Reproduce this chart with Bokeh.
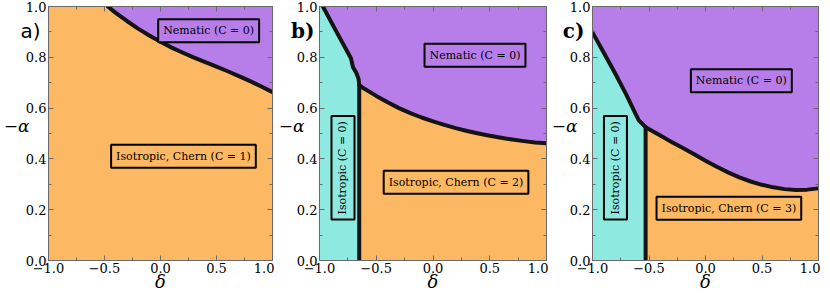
from bokeh.plotting import figure
from bokeh.layouts import row
from bokeh.models import Range1d, LinearAxis, FixedTicker, Label
from bokeh.embed import file_html
from bokeh.resources import INLINE

# ---------------- data ----------------
X_MIN, X_MAX = -1.0, 1.0
Y_MIN, Y_MAX = 0.0, 1.0
x_ticks = [-1.0, -0.5, 0.0, 0.5, 1.0]
x_tick_labels = ["\u22121.0", "\u22120.5", "0.0", "0.5", "1.0"]
x_minor = [-0.75, -0.25, 0.25, 0.75]
y_ticks = [0.0, 0.2, 0.4, 0.6, 0.8, 1.0]
y_tick_labels = ["0.0", "0.2", "0.4", "0.6", "0.8", "1.0"]
y_minor = [0.1, 0.3, 0.5, 0.7, 0.9]
x_label = "\u03b4"
y_label = "\u2212\u03b1"
panel_letters = ["a)", "b)", "c)"]

# panel a: nematic / Chern(C=1) boundary
a_delta = [-0.47, -0.4, -0.3, -0.2, -0.1, 0.0, 0.1, 0.2, 0.3, 0.4, 0.5, 0.6, 0.7, 0.8, 0.9, 1.0]
a_alpha = [1.0, 0.975, 0.943, 0.913, 0.886, 0.861, 0.838, 0.818, 0.799, 0.781, 0.763,
           0.745, 0.726, 0.706, 0.685, 0.663]

# panel b
b_up_delta = [-0.97, -0.85, -0.723, -0.705, -0.676, -0.656, -0.65]
b_up_alpha = [1.0, 0.90, 0.796, 0.761, 0.739, 0.715, 0.690]
b_low_delta = [-0.65, -0.6, -0.5, -0.4, -0.3, -0.2, -0.1, 0.0, 0.1, 0.2, 0.3, 0.4, 0.5,
               0.6, 0.7, 0.8, 0.9, 1.0]
b_low_alpha = [0.690, 0.675, 0.648, 0.623, 0.600, 0.580, 0.563, 0.548, 0.534, 0.521, 0.510,
               0.500, 0.491, 0.483, 0.476, 0.470, 0.465, 0.462]

# panel c
c_up_delta = [-1.0, -0.9, -0.8, -0.7, -0.62, -0.59, -0.53]
c_up_alpha = [0.898, 0.818, 0.737, 0.652, 0.578, 0.552, 0.525]
c_low_delta = [-0.53, -0.4, -0.3, -0.2, -0.1, 0.0, 0.1, 0.2, 0.3, 0.4, 0.5, 0.6, 0.7, 0.8,
               0.9, 1.0]
c_low_alpha = [0.525, 0.492, 0.467, 0.443, 0.418, 0.393, 0.369, 0.347, 0.327, 0.311, 0.298,
               0.288, 0.281, 0.278, 0.279, 0.284]

ORANGE = "#FDB863"
PURPLE = "#B77EEA"
CYAN = "#8EEAE0"
LINE = "#141414"
TICK = "#6a6a6a"
SERIF = "DejaVu Serif"


def style_axis(ax, show_labels, ticks):
    ax.axis_line_color = TICK
    ax.axis_line_width = 1
    ax.major_tick_line_color = TICK
    ax.minor_tick_line_color = TICK
    ax.major_tick_in = 5
    ax.major_tick_out = 0
    ax.minor_tick_in = 3
    ax.minor_tick_out = 0
    ax.major_label_text_font = SERIF
    ax.major_label_text_font_size = "13px"
    ax.major_label_text_color = "black"
    if show_labels:
        ax.major_label_standoff = 2
    else:
        ax.major_label_overrides = {t: "" for t in ticks}
        ax.major_label_standoff = 0


def text_axis(value_pos, text, font, style, size, standoff):
    ax = LinearAxis(ticker=FixedTicker(ticks=[value_pos], minor_ticks=[]))
    ax.major_label_overrides = {value_pos: text}
    ax.axis_line_color = None
    ax.major_tick_line_color = None
    ax.minor_tick_line_color = None
    ax.major_tick_in = 0
    ax.major_tick_out = 0
    ax.major_label_text_font = font
    ax.major_label_text_font_style = style
    ax.major_label_text_font_size = size
    ax.major_label_text_color = "black"
    ax.major_label_standoff = standoff
    return ax


def make_fig(width, left, letter, letter_font, letter_style, letter_standoff, alpha_standoff):
    p = figure(width=width, height=294, output_backend="svg", toolbar_location=None,
               x_range=Range1d(X_MIN, X_MAX), y_range=Range1d(Y_MIN, Y_MAX),
               min_border_left=left, min_border_right=2, min_border_top=6,
               min_border_bottom=33, x_axis_location=None, y_axis_location=None)
    p.background_fill_color = ORANGE
    p.outline_line_color = None
    p.grid.visible = False
    ov_x = {t: l for t, l in zip(x_ticks, x_tick_labels)}
    ov_y = {t: l for t, l in zip(y_ticks, y_tick_labels)}
    # primary axes (nearest the frame)
    bx = LinearAxis(ticker=FixedTicker(ticks=x_ticks, minor_ticks=x_minor))
    style_axis(bx, True, x_ticks)
    bx.major_label_overrides = ov_x
    p.add_layout(bx, "below")
    ly = LinearAxis(ticker=FixedTicker(ticks=y_ticks, minor_ticks=y_minor))
    style_axis(ly, True, y_ticks)
    ly.major_label_overrides = ov_y
    p.add_layout(ly, "left")
    # mirrored ticks
    tx = LinearAxis(ticker=FixedTicker(ticks=x_ticks, minor_ticks=x_minor))
    style_axis(tx, False, x_ticks)
    p.add_layout(tx, "above")
    ry = LinearAxis(ticker=FixedTicker(ticks=y_ticks, minor_ticks=y_minor))
    style_axis(ry, False, y_ticks)
    p.add_layout(ry, "right")
    # panel letter, then y label, then x label
    p.add_layout(text_axis(0.905, letter, letter_font, letter_style, "20px", letter_standoff), "left")
    p.add_layout(text_axis(0.53, y_label, SERIF, "italic", "17px", alpha_standoff), "left")
    p.add_layout(text_axis(0.0, x_label, SERIF, "italic", "18px", -5), "below")
    return p


def box(p, x, y, text, bg, angle=0):
    p.add_layout(Label(x=x, y=y, text=text, text_font=SERIF, text_font_size="11px",
                       text_align="center", text_baseline="middle", text_color="black",
                       angle=angle, angle_units="deg",
                       background_fill_color=bg, border_line_color="black",
                       border_line_width=2, padding=5))


def bline(p, xs, ys):
    p.line(xs, ys, line_color=LINE, line_width=4, line_join="round", line_cap="round")


# ---------------- panel a ----------------
pa = make_fig(274, 47, panel_letters[0], "DejaVu Sans", "normal", -18, -12)
pa.patch(a_delta + [X_MAX], a_alpha + [Y_MAX], fill_color=PURPLE, line_color=None)
bline(pa, a_delta, a_alpha)
box(pa, 0.43, 0.905, "Nematic (C = 0)", PURPLE)
box(pa, 0.205, 0.41, "Isotropic, Chern (C = 1)", ORANGE)

# ---------------- panel b ----------------
pb = make_fig(274, 45, panel_letters[1], SERIF, "bold", -21, -16)
pb.patch([X_MIN] + b_up_delta + [b_up_delta[-1], X_MIN],
         [Y_MAX] + b_up_alpha + [Y_MIN, Y_MIN], fill_color=CYAN, line_color=None)
pb.patch(b_up_delta + b_low_delta[1:] + [X_MAX],
         b_up_alpha + b_low_alpha[1:] + [Y_MAX], fill_color=PURPLE, line_color=None)
bline(pb, b_up_delta, b_up_alpha)
bline(pb, [b_low_delta[0], b_low_delta[0]], [Y_MIN, b_low_alpha[0]])
bline(pb, b_low_delta, b_low_alpha)
box(pb, 0.37, 0.808, "Nematic (C = 0)", PURPLE)
box(pb, 0.203, 0.308, "Isotropic, Chern (C = 2)", ORANGE)
box(pb, -0.793, 0.365, "Isotropic (C = 0)", CYAN, angle=90)

# ---------------- panel c ----------------
pc = make_fig(272, 43, panel_letters[2], SERIF, "bold", -18, -18)
pc.patch([X_MIN] + c_up_delta + [c_up_delta[-1]],
         [Y_MIN] + c_up_alpha + [Y_MIN], fill_color=CYAN, line_color=None)
pc.patch([X_MIN] + c_up_delta + c_low_delta[1:] + [X_MAX],
         [Y_MAX] + c_up_alpha + c_low_alpha[1:] + [Y_MAX], fill_color=PURPLE, line_color=None)
bline(pc, c_up_delta, c_up_alpha)
bline(pc, [c_low_delta[0], c_low_delta[0]], [Y_MIN, c_low_alpha[0]])
bline(pc, c_low_delta, c_low_alpha)
box(pc, 0.317, 0.708, "Nematic (C = 0)", PURPLE)
box(pc, 0.207, 0.206, "Isotropic, Chern (C = 3)", ORANGE)
box(pc, -0.797, 0.365, "Isotropic (C = 0)", CYAN, angle=90)

layout = row(pa, pb, pc)
open("out.html", "w").write(file_html(layout, INLINE))
